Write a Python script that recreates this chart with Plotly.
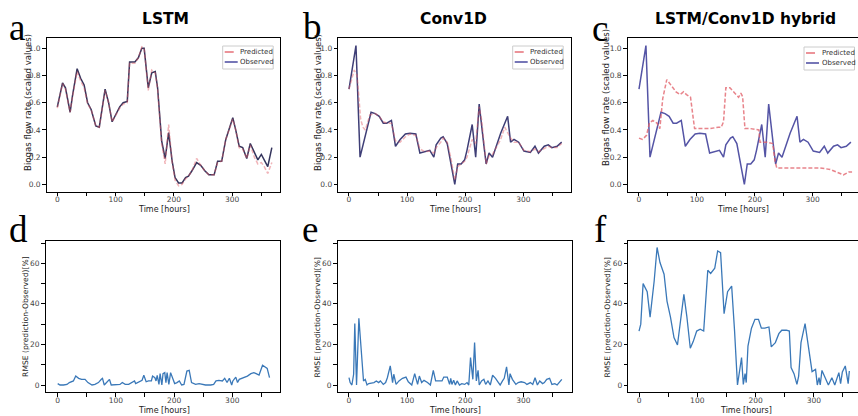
import plotly.graph_objects as go

W, H = 858, 416

# ---------------- data ----------------
# (a) LSTM: time [h], observed and predicted scaled biogas flow
t_lstm = [0, 9, 14, 22, 26, 34, 40, 46, 52, 58, 66, 72, 82, 88, 94, 101, 107, 113, 120, 124,
          133, 139, 145, 149, 156, 162, 168, 172, 179, 185, 191, 197, 202, 208, 214, 220, 225,
          231, 239, 246, 253, 260, 269, 275, 282, 289, 301, 306, 312, 318, 325, 331, 338, 344,
          350, 355, 361, 368]
obs_lstm = [0.57, 0.745, 0.71, 0.53, 0.65, 0.85, 0.78, 0.73, 0.60, 0.55, 0.43, 0.42, 0.70, 0.60,
            0.46, 0.52, 0.57, 0.60, 0.61, 0.90, 0.90, 0.93, 1.00, 1.00, 0.71, 0.82, 0.83, 0.71,
            0.32, 0.19, 0.38, 0.17, 0.05, 0.01, 0.01, 0.05, 0.06, 0.10, 0.16, 0.14, 0.10, 0.07,
            0.07, 0.17, 0.17, 0.33, 0.49, 0.40, 0.28, 0.27, 0.19, 0.30, 0.23, 0.18, 0.22, 0.18,
            0.13, 0.27]
pred_lstm = [0.56, 0.74, 0.70, 0.53, 0.64, 0.83, 0.76, 0.71, 0.59, 0.55, 0.43, 0.42, 0.69, 0.60,
             0.46, 0.51, 0.56, 0.59, 0.60, 0.89, 0.89, 0.93, 1.01, 1.00, 0.69, 0.84, 0.82, 0.70,
             0.30, 0.15, 0.44, 0.16, 0.03, -0.01, 0.00, 0.04, 0.06, 0.10, 0.19, 0.14, 0.10, 0.07,
             0.07, 0.16, 0.17, 0.33, 0.48, 0.40, 0.27, 0.26, 0.19, 0.29, 0.20, 0.15, 0.16, 0.13,
             0.08, 0.16]

# observed series shared by (b) Conv1D and (c) hybrid
t_obs = [0, 12, 19, 28, 38, 45, 52, 59, 65, 73, 80, 88, 97, 105, 115, 122, 131, 139, 146, 150,
         158, 162, 169, 175, 182, 187, 193, 199, 203, 212, 218, 224, 228, 232, 236, 241, 247,
         261, 273, 278, 284, 292, 301, 312, 320, 326, 336, 343, 349, 358, 366]
obs_bc = [0.70, 1.02, 0.20, 0.36, 0.53, 0.52, 0.50, 0.45, 0.45, 0.47, 0.28, 0.33, 0.37, 0.375,
          0.37, 0.23, 0.24, 0.25, 0.20, 0.29, 0.34, 0.35, 0.30, 0.17, 0.00, 0.15, 0.15, 0.18,
          0.25, 0.44, 0.20, 0.59, 0.42, 0.29, 0.15, 0.23, 0.20, 0.375, 0.50, 0.31, 0.33, 0.31,
          0.245, 0.235, 0.28, 0.23, 0.28, 0.29, 0.27, 0.28, 0.31]

# (b) Conv1D prediction
t_conv = [0, 9, 14, 17, 20, 24, 28, 36, 45, 52, 59, 65, 73, 80, 88, 97, 105, 115, 122, 131, 139,
          146, 150, 158, 162, 169, 175, 182, 187, 193, 199, 203, 212, 218, 224, 228, 232, 236,
          241, 247, 261, 268, 278, 284, 292, 301, 312, 320, 326, 336, 343, 349, 358, 366]
pred_conv = [0.70, 0.84, 0.80, 0.62, 0.48, 0.42, 0.40, 0.51, 0.52, 0.50, 0.46, 0.45, 0.45, 0.32,
             0.31, 0.35, 0.37, 0.36, 0.26, 0.24, 0.245, 0.23, 0.27, 0.31, 0.34, 0.31, 0.20, 0.03,
             0.13, 0.15, 0.17, 0.20, 0.33, 0.30, 0.57, 0.48, 0.30, 0.15, 0.21, 0.22, 0.33, 0.42,
             0.34, 0.31, 0.31, 0.25, 0.24, 0.26, 0.24, 0.26, 0.28, 0.27, 0.27, 0.30]

# (c) LSTM/Conv1D hybrid prediction
t_hyb = [0, 6, 13, 18, 24, 31, 36, 41, 48, 55, 64, 71, 77, 82, 89, 96, 108, 123, 137, 142, 146,
         150, 157, 166, 172, 176, 179, 183, 192, 207, 209, 221, 231, 235, 238, 250, 278, 313, 330,
         342, 353, 362, 368]
pred_hyb = [0.34, 0.33, 0.36, 0.45, 0.47, 0.45, 0.41, 0.63, 0.77, 0.73, 0.68, 0.66, 0.68, 0.66,
            0.64, 0.41, 0.41, 0.41, 0.42, 0.42, 0.46, 0.71, 0.71, 0.67, 0.64, 0.67, 0.645, 0.41,
            0.41, 0.40, 0.31, 0.31, 0.30, 0.17, 0.12, 0.12, 0.12, 0.12, 0.11, 0.09, 0.07, 0.09,
            0.09]

# (d) RMSE, LSTM
t_rmse_lstm = [0, 4, 10, 16, 20, 23, 27, 31, 36, 41, 47, 52, 59, 64, 70, 75, 77, 80, 84, 89, 92,
               99, 107, 111, 116, 122, 128, 132, 134, 139, 145, 148, 152, 156, 161, 163, 167, 169,
               171, 174, 176, 179, 181, 184, 186, 188, 191, 194, 198, 201, 205, 209, 213, 217,
               222, 226, 230, 237, 243, 248, 254, 263, 268, 272, 277, 283, 287, 291, 295, 299,
               301, 306, 309, 312, 316, 320, 326, 332, 337, 341, 346, 352, 356, 360, 364]
rmse_lstm = [0.7, 0.0, 0.0, 0.3, 1.2, 1.6, 2.0, 4.4, 3.3, 2.8, 2.8, 1.2, 0.0, 0.3, 1.2, 2.8, 3.3,
             0.0, 1.2, 2.8, 0.0, 0.0, 0.3, 1.2, 0.3, 0.3, 1.2, 2.0, 0.7, 1.6, 2.3, 4.8, 1.6, 2.0,
             2.0, 4.4, 3.6, 2.0, 4.8, 0.3, 5.6, 0.0, 5.6, 6.1, 1.2, 6.1, 0.3, 6.1, 2.8, 0.7, 1.2,
             2.0, 0.0, 0.3, 6.9, 7.2, 1.2, 0.3, 0.7, 0.3, 0.0, 0.0, 0.3, 2.0, 2.3, 2.0, 3.3, 1.2,
             3.3, 0.0, 2.0, 3.9, 1.2, 2.8, 3.3, 3.6, 4.4, 5.6, 6.1, 5.6, 4.9, 9.7, 8.9, 8.2, 3.6]

# (e) RMSE, Conv1D
t_rmse_conv = [0, 2, 5, 8, 10, 13, 17, 20, 23, 25, 28, 31, 34, 43, 47, 51, 54, 59, 63, 66, 71,
               75, 77, 81, 86, 92, 98, 102, 108, 113, 118, 121, 125, 129, 135, 140, 145, 149,
               154, 160, 163, 169, 173, 175, 177, 180, 183, 186, 190, 194, 199, 203, 206, 209,
               213, 216, 219, 222, 224, 228, 232, 235, 239, 243, 247, 252, 257, 260, 264, 267,
               271, 275, 277, 281, 287, 291, 296, 302, 306, 312, 316, 320, 324, 328, 333, 336,
               340, 345, 349, 354, 358, 362, 366]
rmse_conv = [3.6, 1.2, 0.0, 5.3, 30.3, 0.0, 32.9, 21.7, 7.7, 2.0, 2.8, 0.0, 0.7, 1.2, 2.0, 1.2,
             2.0, 0.3, 1.2, 3.6, 9.4, 1.2, 5.3, 0.3, 2.0, 3.3, 3.9, 1.6, 0.0, 5.6, 0.3, 4.4, 1.2,
             2.3, 1.2, 0.0, 7.2, 2.0, 2.0, 2.0, 3.9, 3.9, 0.3, 3.3, 0.3, 2.3, 0.0, 2.0, 0.0, 0.7,
             0.3, 1.2, 0.0, 13.5, 2.8, 20.9, 2.0, 7.2, 0.0, 2.0, 2.8, 0.3, 2.0, 0.0, 4.8, 3.3,
             1.2, 0.0, 2.0, 3.3, 8.9, 0.0, 5.6, 2.8, 0.3, 1.2, 1.6, 1.2, 0.3, 1.2, 0.3, 3.6, 0.0,
             2.0, 0.7, 1.2, 2.8, 3.3, 0.3, 0.7, 0.0, 1.2, 2.8]

# (f) RMSE, LSTM/Conv1D hybrid
t_rmse_hyb = [0, 3, 7, 14, 19, 26, 31, 36, 43, 48, 54, 60, 66, 77, 82, 88, 93, 99, 105, 111, 118,
              123, 130, 135, 140, 146, 152, 159, 164, 169, 176, 179, 182, 184, 187, 193, 199,
              205, 210, 216, 223, 227, 234, 240, 245, 253, 258, 261, 266, 271, 274, 278, 285,
              291, 297, 303, 306, 309, 311, 314, 320, 325, 331, 336, 343, 346, 349, 354, 359, 361]
rmse_hyb = [26.6, 30.0, 50.0, 46.0, 33.5, 51.3, 67.8, 60.4, 54.6, 41.4, 33.5, 23.4, 19.7, 44.7,
            34.0, 18.1, 21.4, 26.6, 27.5, 26.6, 56.6, 55.0, 57.6, 66.1, 65.3, 35.2, 46.0, 48.8,
            26.6, 0.0, 13.5, 0.3, 5.6, 1.2, 19.2, 28.0, 32.4, 32.4, 28.0, 28.0, 28.6, 18.8, 20.9,
            25.3, 27.0, 27.0, 26.6, 8.6, 5.6, 0.3, 4.4, 20.9, 30.3, 18.8, 6.6, 7.7, 0.0, 3.6, 0.0,
            7.2, 3.6, 0.0, 3.6, 0.0, 6.1, 0.7, 6.4, 9.4, 0.7, 6.9]

titles = ["LSTM", "Conv1D", "LSTM/Conv1D hybrid"]
letters = ["a", "b", "c", "d", "e", "f"]
x_label = "Time [hours]"
y_label_top = "Biogas flow rate (scaled values)"
y_label_bottom = "RMSE (prediction-Observed)[%]"

PRED_COLOR = "rgba(226, 95, 105, 0.85)"
OBS_COLORS = ["rgb(52, 52, 92)", "rgb(62, 62, 118)", "rgb(84, 84, 165)"]
LEGEND_OBS = "rgb(84, 84, 165)"
RMSE_COLOR = "#3a78b8"


def px(x):
    return x / W


def py(y):
    return 1 - y / H


# panel geometry in pixels: (left, right, top, bottom), axis ranges
panels = [
    dict(box=(46.7, 280.0, 38.3, 191.7), xr=(-18.2, 382), yr=(-0.054, 1.0735)),
    dict(box=(338.3, 571.0, 38.3, 191.7), xr=(-18.4, 382), yr=(-0.054, 1.0735)),
    dict(box=(627.7, 857.5, 38.3, 191.7), xr=(-19.5, 377.4), yr=(-0.054, 1.0735)),
    dict(box=(45.7, 280.0, 241.0, 392.3), xr=(-20.6, 382), yr=(-3.6, 71.0)),
    dict(box=(337.7, 571.7, 241.0, 392.3), xr=(-19.4, 383), yr=(-3.6, 71.0)),
    dict(box=(628.3, 857.5, 241.0, 392.3), xr=(-18.4, 375), yr=(-3.6, 71.0)),
]

fig = go.Figure()

tickfont = dict(family="DejaVu Sans", size=7.5, color="#444")
layout_axes = {}
for i, p in enumerate(panels):
    n = "" if i == 0 else str(i + 1)
    l, r, t, b = p["box"]
    top_row = i < 3
    layout_axes["xaxis" + n] = dict(
        domain=[px(l), px(r)], range=list(p["xr"]), anchor="y" + n,
        showline=True, linecolor="black", linewidth=1.2, mirror=True,
        ticks="outside", ticklen=3.5, tickwidth=1, tickcolor="black",
        tickmode="linear", tick0=0, dtick=100, tickfont=tickfont,
        ticklabelstandoff=-3,
        minor=dict(dtick=50, tick0=0, ticks="outside", ticklen=3.5, tickwidth=1,
                   tickcolor="black", showgrid=False),
        showgrid=False, zeroline=False,
    )
    ya = dict(
        domain=[py(b), py(t)], range=list(p["yr"]), anchor="x" + n,
        showline=True, linecolor="black", linewidth=1.2, mirror=True,
        ticks="outside", ticklen=3.5, tickwidth=1, tickcolor="black",
        tickmode="linear", tick0=0, tickfont=tickfont,
        showgrid=False, zeroline=False,
    )
    if top_row:
        ya.update(dtick=0.2, tickformat=".1f")
    else:
        ya.update(dtick=20, minor=dict(dtick=10, tick0=0, ticks="outside", ticklen=3.5,
                                       tickwidth=1, tickcolor="black", showgrid=False))
    layout_axes["yaxis" + n] = ya

# prediction / observation traces
top_series = [
    (t_lstm, pred_lstm, t_lstm, obs_lstm),
    (t_conv, pred_conv, t_obs, obs_bc),
    (t_hyb, pred_hyb, t_obs, obs_bc),
]
for i, (tp, yp, to, yo) in enumerate(top_series):
    n = "" if i == 0 else str(i + 1)
    fig.add_trace(go.Scatter(x=to, y=yo, mode="lines", name="Observed",
                             line=dict(color=OBS_COLORS[i], width=1.5),
                             xaxis="x" + n, yaxis="y" + n))
    fig.add_trace(go.Scatter(x=tp, y=yp, mode="lines", name="Predicted",
                             line=dict(color=PRED_COLOR, width=1.5, dash="4px,2px"),
                             opacity=0.9 if i == 2 else 0.55,
                             xaxis="x" + n, yaxis="y" + n))

rmse_series = [(t_rmse_lstm, rmse_lstm), (t_rmse_conv, rmse_conv), (t_rmse_hyb, rmse_hyb)]
for j, (tx, ry) in enumerate(rmse_series):
    n = str(j + 4)
    fig.add_trace(go.Scatter(x=tx, y=ry, mode="lines", name="RMSE",
                             line=dict(color=RMSE_COLOR, width=1.3),
                             xaxis="x" + n, yaxis="y" + n))

annotations = []
shapes = []

# column titles
for title, cx in zip(titles, [165.7, 453.3, 745.0]):
    annotations.append(dict(text="<b>%s</b>" % title, x=px(cx), y=py(18.5), xref="paper",
                            yref="paper", xanchor="center", yanchor="middle", showarrow=False,
                            font=dict(family="DejaVu Sans", size=15.5, color="black")))

# panel letters
letter_pos = [(7, 28), (301, 27), (590, 29), (7, 229), (300, 229), (592, 229)]
for letter, (lx, ly) in zip(letters, letter_pos):
    annotations.append(dict(text=letter, x=px(lx), y=py(ly), xref="paper", yref="paper",
                            xanchor="left", yanchor="middle", showarrow=False,
                            font=dict(family="Liberation Serif", size=37, color="black")))

# axis titles
for cx in [163.5, 455.0, 742.5]:
    annotations.append(dict(text=x_label, x=px(cx), y=py(209.5), xref="paper", yref="paper",
                            xanchor="center", yanchor="middle", showarrow=False,
                            font=dict(family="DejaVu Sans", size=8, color="#222")))
for cx in [164.0, 455.2, 745.5]:
    annotations.append(dict(text=x_label, x=px(cx), y=py(410), xref="paper", yref="paper",
                            xanchor="center", yanchor="middle", showarrow=False,
                            font=dict(family="DejaVu Sans", size=8, color="#222")))
for cx, cy in [(27.5, 102.5), (317.5, 102.5), (606.0, 98.0)]:
    annotations.append(dict(text=y_label_top, x=px(cx), y=py(cy), xref="paper", yref="paper",
                            xanchor="center", yanchor="middle", textangle=-90, showarrow=False,
                            font=dict(family="DejaVu Sans", size=8.6, color="#222")))
for cx, cy in [(26.2, 316.7), (317.8, 316.7), (607.8, 316.7)]:
    annotations.append(dict(text=y_label_bottom, x=px(cx), y=py(cy), xref="paper",
                            yref="paper", xanchor="center", yanchor="middle", textangle=-90,
                            showarrow=False,
                            font=dict(family="DejaVu Sans", size=7.6, color="#222")))

# legends for the upper row
for left, top in [(222.7, 46.0), (512.7, 46.0), (804.0, 47.0)]:
    shapes.append(dict(type="rect", xref="paper", yref="paper",
                       x0=px(left), x1=px(left + 50.5), y0=py(top + 23), y1=py(top),
                       line=dict(color="#cccccc", width=1), fillcolor="white", layer="above"))
    for k, (name, col, dash) in enumerate([("Predicted", PRED_COLOR, "dash"),
                                           ("Observed", LEGEND_OBS, "solid")]):
        yy = top + 6 + 10 * k
        shapes.append(dict(type="line", xref="paper", yref="paper",
                           x0=px(left + 2), x1=px(left + 15), y0=py(yy), y1=py(yy),
                           line=dict(color=col, width=1.6, dash=dash), layer="above"))
        annotations.append(dict(text=name, x=px(left + 15.5), y=py(yy), xref="paper",
                                yref="paper", xanchor="left", yanchor="middle",
                                showarrow=False,
                                font=dict(family="DejaVu Sans", size=7, color="#333")))

fig.update_layout(
    width=W, height=H, margin=dict(l=0, r=0, t=0, b=0),
    paper_bgcolor="white", plot_bgcolor="white", showlegend=False,
    annotations=annotations, shapes=shapes, **layout_axes,
)

fig.write_html("out.html")
